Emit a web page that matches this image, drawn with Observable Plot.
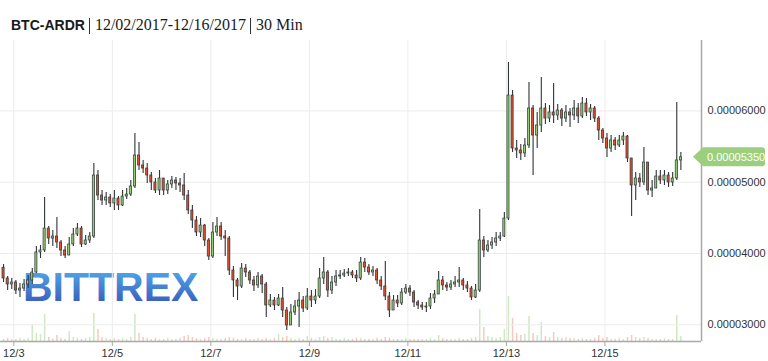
<!DOCTYPE html>
<html>
<head>
<meta charset="utf-8">
<script src="https://cdn.jsdelivr.net/npm/d3@7"></script>
<script src="https://cdn.jsdelivr.net/npm/@observablehq/plot@0.6"></script>
<style>
  html, body { margin: 0; padding: 0; background: #fff; }
  #wrap { position: relative; width: 768px; height: 361px; overflow: hidden; background: #fff; }
  #title { position: absolute; left: 11px; top: 15px; white-space: nowrap; line-height: 20px; color: #1a1a1a; }
  #title .sym { font: bold 14px "Liberation Sans", Arial, sans-serif; }
  #title .ser { font: 16px "Liberation Serif", Georgia, serif; }
  #title .sep { display: inline-block; width: 0; height: 16px; border-left: 1.5px solid #333; vertical-align: -4px; margin: 0 5px 0 4px; }
  .layer { position: absolute; left: 0; top: 40px; }
</style>
</head>
<body>
<div id="wrap">
  <div id="title"><span class="sym">BTC-ARDR</span><span class="sep"></span><span class="ser">12/02/2017-12/16/2017</span><span class="sep"></span><span class="ser">30 Min</span></div>
  <div id="bg" class="layer"></div>
  <div id="fg" class="layer"></div>
</div>
<script>
// ---- data (prices in satoshi, 1e-8 BTC), 2-hour candles from 2017-12-02 18:00 UTC ----
const startTime = "2017-12-02T18:00:00Z";
const candleHours = 2;
const open0 = 3800;
const close = [
  3649,3565,3593,3480,3508,3565,3621,3733,4014,4042,
  4350,4210,4238,4154,4042,3971,4126,4266,4350,4126,
  4182,4238,5094,4813,4743,4785,4701,4771,4673,4799,
  4827,4940,5375,5234,5192,5094,4996,4883,5052,4883,
  4968,5024,4982,4954,4813,4603,4462,4294,4392,4182,
  3957,4294,4378,4238,4210,3761,3621,3537,3789,3733,
  3621,3551,3677,3565,3270,3340,3270,3368,3200,2989,
  3172,3256,3340,3228,3396,3340,3396,3649,3733,3480,
  3593,3677,3691,3719,3733,3691,3649,3873,3803,3733,
  3761,3621,3537,3396,3200,3340,3298,3452,3508,3452,
  3312,3270,3242,3256,3368,3424,3621,3551,3522,3565,
  3593,3621,3551,3508,3382,3480,4182,4042,4112,4154,
  4210,4238,4490,6216,5473,5445,5403,5515,6034,5655,
  5795,6034,5893,5978,5936,6006,5893,5978,5936,6034,
  5922,6104,5978,6034,5893,5725,5613,5473,5585,5515,
  5585,5641,5333,4954,5052,4996,5276,4883,4911,5080,
  5024,5094,4996,5052,5305,5350
];
const high = [
  3845,3677,3649,3621,3579,3635,3691,3789,4098,4112,
  4785,4378,4322,4505,4182,4098,4224,4350,4420,4378,
  4252,4294,5262,5164,4883,4855,4827,4883,4799,4883,
  4911,5024,5683,5557,5305,5262,5136,5052,5164,5052,
  5024,5080,5066,5052,5122,4883,4673,4519,4490,4406,
  4210,4434,4505,4434,4322,4238,3817,3649,3859,3845,
  3761,3677,3733,3705,3593,3424,3382,3424,3522,3242,
  3284,3340,3452,3396,3508,3480,3494,3789,3943,3761,
  3677,3761,3761,3775,3789,3761,3761,3943,3929,3845,
  3817,3789,3677,3887,3452,3410,3410,3508,3565,3551,
  3480,3340,3312,3312,3438,3480,3747,3677,3593,3621,
  3677,3803,3649,3607,3537,3565,4617,4238,4182,4224,
  4294,4294,4575,6679,6286,5585,5529,5613,6399,6076,
  5978,6469,6104,6076,6385,6090,6034,6076,6034,6146,
  6104,6188,6174,6090,6062,5922,5753,5683,5655,5627,
  5655,5697,5655,5234,5136,5122,5487,5192,5024,5164,
  5164,5164,5136,5136,6118,5417
];
const low = [
  3593,3480,3494,3424,3382,3466,3508,3565,3720,3929,
  4014,4126,4098,4070,3957,3929,4042,4098,4238,4084,
  4112,4140,4210,4743,4673,4673,4645,4603,4603,4659,
  4757,4799,4911,5164,5122,4982,4883,4841,4813,4813,
  4827,4911,4883,4855,4743,4547,4350,4238,4224,4098,
  3901,3929,4238,4182,3957,3691,3382,3340,3508,3663,
  3565,3466,3508,3438,3101,3242,3200,3256,3101,2919,
  3059,3130,2961,3172,3200,3242,3284,3368,3565,3382,
  3424,3537,3635,3663,3677,3649,3593,3621,3733,3691,
  3677,3565,3480,3340,3101,3200,3242,3270,3424,3396,
  3242,3214,3200,3172,3214,3298,3424,3480,3466,3480,
  3522,3522,3480,3452,3340,3368,3452,3943,4014,4056,
  4098,4168,4224,4462,5417,5333,5305,5347,5473,5094,
  5473,5697,5809,5837,5823,5865,5781,5837,5767,5865,
  5823,5893,5922,5865,5837,5585,5543,5347,5417,5445,
  5487,5515,5276,4519,4743,4926,4954,4813,4785,4954,
  4968,4954,4926,4940,5024,5164
];
const volume = [
  2,3,2,2,3,2,3,17,8,7,
  27,4,3,6,3,2,10,4,3,2,
  3,4,28,12,4,3,2,3,2,3,
  2,4,27,8,4,3,2,3,2,2,
  3,2,2,3,5,6,4,3,2,3,
  4,3,2,2,3,4,3,2,2,3,
  2,2,3,2,3,2,3,7,4,5,
  3,2,3,2,5,3,2,4,5,3,
  4,2,2,3,2,2,3,3,2,2,
  2,3,2,4,3,2,2,2,3,2,
  2,2,2,2,3,2,6,3,2,2,
  2,3,2,2,3,4,32,14,5,4,
  3,4,12,45,23,8,6,7,25,8,
  6,19,5,4,9,4,3,4,3,3,
  2,3,2,2,3,6,3,4,2,2,
  3,2,4,6,4,3,4,3,2,2,
  2,3,2,2,26,5
];
const xTickDates = ["2017-12-03","2017-12-05","2017-12-07","2017-12-09","2017-12-11","2017-12-13","2017-12-15"];
const yTickSat = [3000, 4000, 5000, 6000];
const xDomainStr = ["2017-12-02T17:31:00Z", "2017-12-16T23:03:00Z"];
const yDomainSat = [2765, 6988];
const volDomain = [0, 301];

// ---- build ----
const SAT = 1e-8;
const t0 = new Date(startTime).getTime();
const step = candleHours * 3600e3;
const candles = close.map((c, i) => {
  const o = i === 0 ? open0 : close[i - 1];
  return {
    t0: new Date(t0 + i * step),
    t1: new Date(t0 + (i + 1) * step),
    mid: new Date(t0 + i * step + step / 2),
    open: o * SAT,
    close: c * SAT,
    high: Math.max(high[i], o, c) * SAT,
    low: Math.min(low[i], o, c) * SAT,
    vol: volume[i],
    up: c >= o
  };
});
const ups = candles.filter(d => d.up);
const downs = candles.filter(d => !d.up);
const xTicks = xTickDates.map(s => new Date(s + "T00:00:00Z"));
const yTicks = yTickSat.map(v => v * SAT);
const xDomain = xDomainStr.map(s => new Date(s));
const yDomain = yDomainSat.map(v => v * SAT);
const fmtPrice = d3.format(".8f");
const fmtDate = d => `${d.getUTCMonth() + 1}/${d.getUTCDate()}`;

const GREEN = "#92cf70", RED = "#e0502c", DARK = "#2e3437";
const common = {
  width: 768, height: 321,
  marginTop: 0, marginBottom: 20, marginLeft: 0, marginRight: 67,
  style: { fontFamily: "'Liberation Sans', Arial, sans-serif", fontSize: "11px", color: "#333", background: "transparent", overflow: "visible" }
};

// background: volume + watermark
const bg = Plot.plot({
  ...common,
  x: { type: "utc", domain: xDomain, axis: null },
  y: { domain: volDomain, axis: null },
  marks: [
    Plot.ruleX(ups, { x: "mid", y: "vol", stroke: "#cfe8c2", strokeWidth: 1.5 }),
    Plot.ruleX(downs, { x: "mid", y: "vol", stroke: "#f5c9c0", strokeWidth: 1.5 })
  ]
});
document.getElementById("bg").appendChild(bg);
{
  const svg = d3.select(bg);
  const grad = svg.append("defs").append("linearGradient")
    .attr("id", "bittrexGrad").attr("x1", 0).attr("y1", 0).attr("x2", 0).attr("y2", 1);
  grad.append("stop").attr("offset", "0%").attr("stop-color", "#44aef2");
  grad.append("stop").attr("offset", "100%").attr("stop-color", "#2540ad");
  svg.append("text")
    .attr("x", 23).attr("y", 261)
    .attr("text-anchor", "start")
    .attr("font-family", "'Liberation Sans', Arial, sans-serif")
    .attr("font-weight", "bold").attr("font-size", 41)
    .attr("fill", "url(#bittrexGrad)").attr("fill-opacity", 0.92)
    .text("BITTREX");
}

// foreground: grid, axes, candles
const fg = Plot.plot({
  ...common,
  x: { type: "utc", domain: xDomain },
  y: { domain: yDomain },
  marks: [
    Plot.gridX(xTicks, { stroke: "#ececec", strokeOpacity: 1 }),
    Plot.gridY(yTicks, { stroke: "#ececec", strokeOpacity: 1 }),
    Plot.ruleX(candles, { x: "mid", y1: "low", y2: "high", stroke: DARK, strokeWidth: 1.1 }),
    Plot.rect(ups, { x1: "t0", x2: "t1", y1: "open", y2: "close", insetLeft: 1, insetRight: 1, fill: GREEN, stroke: DARK, strokeWidth: 0.7 }),
    Plot.rect(downs, { x1: "t0", x2: "t1", y1: "open", y2: "close", insetLeft: 1, insetRight: 1, fill: RED, stroke: DARK, strokeWidth: 0.7 }),
    Plot.ruleY([yDomain[0]], { stroke: "#a9a9a9", strokeWidth: 1.5 }),
    Plot.ruleX([xDomain[1]], { stroke: "#a9a9a9", strokeWidth: 1.5 }),
    Plot.axisX(xTicks, { tickFormat: fmtDate, tickSize: 5, tickPadding: 3, stroke: "#a9a9a9", fill: "#333", label: null }),
    Plot.axisY(yTicks, { anchor: "right", tickSize: 0, tickPadding: 6, tickFormat: fmtPrice, fill: "#333", label: null })
  ]
});
document.getElementById("fg").appendChild(fg);
{
  const last = candles[candles.length - 1];
  const yPos = fg.scale("y").apply(last.close);
  const svg = d3.select(fg);
  const h = 9.5;
  svg.append("path")
    .attr("d", `M693,${yPos} L703,${yPos - h} H762 Q765,${yPos - h} 765,${yPos - h + 3} V${yPos + h - 3} Q765,${yPos + h} 762,${yPos + h} H703 Z`)
    .attr("fill", "#9ccf7d");
  svg.append("text")
    .attr("x", 707).attr("y", yPos).attr("dy", "0.35em")
    .attr("text-anchor", "start")
    .attr("font-family", "'Liberation Sans', Arial, sans-serif").attr("font-size", 11)
    .attr("fill", "#fff")
    .text(fmtPrice(last.close));
}
</script>
</body>
</html>
